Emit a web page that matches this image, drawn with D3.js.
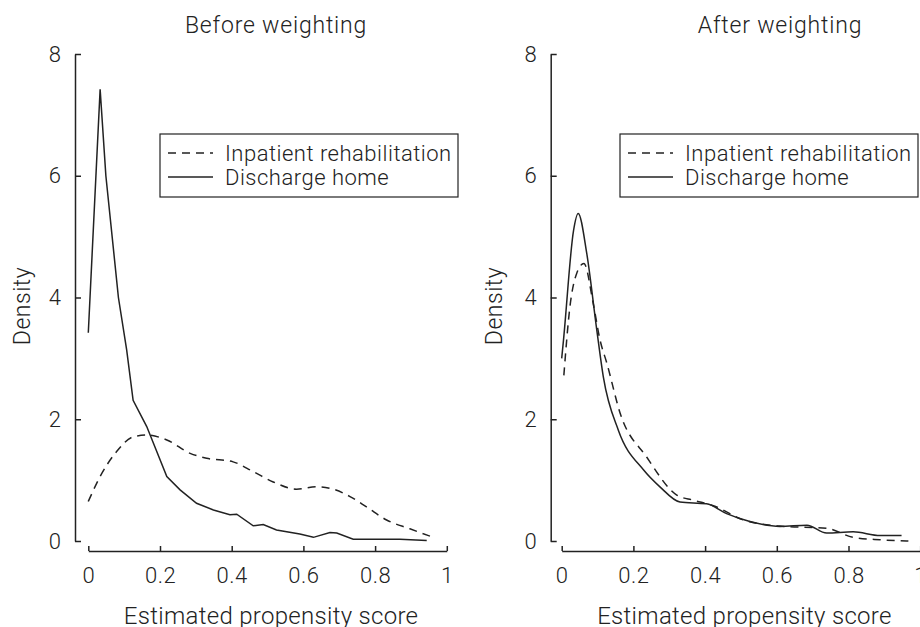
<!DOCTYPE html>
<html>
<head>
<meta charset="utf-8">
<script src="https://cdn.jsdelivr.net/npm/d3@7"></script>
<style>
  body { margin: 0; background: #fff; }
  text { font-family: Roboto, Lato, sans-serif; font-weight: 300; fill: #222; }
</style>
</head>
<body>
<script>
'use strict';

// density curves, [score, density]
const beforeRehab = [[0,0.65],[0.033,1.06],[0.079,1.47],[0.125,1.71],[0.163,1.74],[0.219,1.66],[0.284,1.44],[0.33,1.36],[0.404,1.30],[0.46,1.14],[0.516,0.97],[0.581,0.85],[0.637,0.89],[0.684,0.85],[0.73,0.73],[0.776,0.56],[0.832,0.345],[0.897,0.2],[0.953,0.08]];
const beforeHome = [[0,3.42],[0.033,7.42],[0.049,6.0],[0.084,4.0],[0.107,3.14],[0.125,2.31],[0.163,1.88],[0.219,1.06],[0.256,0.84],[0.302,0.62],[0.349,0.51],[0.395,0.43],[0.414,0.44],[0.46,0.25],[0.488,0.27],[0.525,0.18],[0.59,0.115],[0.628,0.06],[0.674,0.14],[0.693,0.13],[0.739,0.03],[0.776,0.03],[0.869,0.03],[0.944,0.01]];
const afterRehab = [[0.006,2.72],[0.023,3.85],[0.042,4.4],[0.062,4.56],[0.088,3.9],[0.107,3.3],[0.126,2.92],[0.163,2.10],[0.237,1.38],[0.321,0.755],[0.367,0.67],[0.423,0.58],[0.507,0.345],[0.609,0.245],[0.739,0.21],[0.813,0.06],[0.888,0.02],[0.967,0.0]];
const afterHome = [[0,3.0],[0.005,3.3],[0.033,5.1],[0.046,5.38],[0.07,4.72],[0.098,3.46],[0.116,2.70],[0.158,1.82],[0.228,1.17],[0.274,0.89],[0.33,0.64],[0.404,0.61],[0.46,0.45],[0.525,0.32],[0.609,0.24],[0.684,0.26],[0.739,0.13],[0.813,0.15],[0.888,0.09],[0.948,0.09]];

const xTicks = [0, 0.2, 0.4, 0.6, 0.8, 1];
const yTicks = [0, 2, 4, 6, 8];
const legendLabels = ["Inpatient rehabilitation", "Discharge home"];

const panels = [
    { title: "Before weighting", rehab: beforeRehab, home: beforeHome, homeCurve: d3.curveLinear, yAxisX: 75, x0: 88.3, x1: 446.8, legendX: 160, titleX: 276, densityX: 22 },
    { title: "After weighting", rehab: afterRehab, home: afterHome, homeCurve: d3.curveMonotoneX, yAxisX: 550.7, x0: 561.7, x1: 920.2, legendX: 620, titleX: 780, densityX: 494 }
];

const svg = d3.select("body").append("svg")
    .attr("width", 920)
    .attr("height", 627);

const y = d3.scaleLinear().domain([0, 8]).range([541, 54]);
const ink = "#222";
const dash = "8,6";

panels.forEach(function(p) {
    const x = d3.scaleLinear().domain([0, 1]).range([p.x0, p.x1]);
    const g = svg.append("g");

    // y axis, ticks pointing inward
    const yAxis = g.append("g")
        .attr("transform", "translate(" + p.yAxisX + ",0)")
        .call(d3.axisRight(y).tickValues(yTicks).tickSize(6).tickSizeOuter(0).tickFormat(d3.format("d")));
    yAxis.select(".domain").attr("stroke", ink).attr("stroke-width", 1.5);
    yAxis.selectAll(".tick line").attr("stroke", ink).attr("stroke-width", 1.5);
    yAxis.selectAll(".tick text")
        .attr("x", -14).attr("text-anchor", "end")
        .attr("font-size", 22).attr("fill", ink);

    // x axis below, ticks pointing up
    const xAxis = g.append("g")
        .attr("transform", "translate(0,551)")
        .call(d3.axisTop(x).tickValues(xTicks).tickSize(5).tickSizeOuter(0).tickFormat(d3.format("")));
    xAxis.select(".domain").attr("stroke", ink).attr("stroke-width", 1.5);
    xAxis.selectAll(".tick line").attr("stroke", ink).attr("stroke-width", 1.5);
    xAxis.selectAll(".tick text")
        .attr("y", 32).attr("dy", 0)
        .attr("font-size", 22).attr("letter-spacing", 0.5).attr("fill", ink);

    const dashedLine = d3.line()
        .curve(d3.curveMonotoneX)
        .x(d => x(d[0]))
        .y(d => y(d[1]));

    const solidLine = d3.line()
        .curve(p.homeCurve)
        .x(d => x(d[0]))
        .y(d => y(d[1]));

    g.append("path")
        .datum(p.rehab)
        .attr("d", dashedLine)
        .attr("fill", "none")
        .attr("stroke", ink)
        .attr("stroke-width", 1.5)
        .attr("stroke-dasharray", dash);

    g.append("path")
        .datum(p.home)
        .attr("d", solidLine)
        .attr("fill", "none")
        .attr("stroke", ink)
        .attr("stroke-width", 1.5);

    g.append("text")
        .attr("x", p.titleX).attr("y", 33)
        .attr("text-anchor", "middle")
        .attr("font-size", 23)
        .attr("letter-spacing", 0.8)
        .text(p.title);

    g.append("text")
        .attr("transform", "translate(" + (p.densityX + 8) + ",306) rotate(-90)")
        .attr("text-anchor", "middle")
        .attr("font-size", 23)
        .attr("letter-spacing", 0.5)
        .text("Density");

    g.append("text")
        .attr("x", (p.x0 + p.x1) / 2 + 3.5).attr("y", 624)
        .attr("text-anchor", "middle")
        .attr("font-size", 24)
        .attr("letter-spacing", 0.3)
        .text("Estimated propensity score");

    // legend
    const lg = g.append("g").attr("transform", "translate(" + p.legendX + ",134)");
    lg.append("rect")
        .attr("width", 298).attr("height", 63)
        .attr("fill", "#fff").attr("stroke", ink).attr("stroke-width", 1.2);
    legendLabels.forEach(function(label, i) {
        const ly = 19 + i * 24;
        lg.append("line")
            .attr("x1", 8).attr("x2", 53)
            .attr("y1", ly).attr("y2", ly)
            .attr("stroke", ink).attr("stroke-width", 1.3)
            .attr("stroke-dasharray", i === 0 ? dash : null);
        lg.append("text")
            .attr("x", 65).attr("y", ly + 8)
            .attr("font-size", 22)
            .attr("letter-spacing", 0.5)
            .text(label);
    });
});
</script>
</body>
</html>
